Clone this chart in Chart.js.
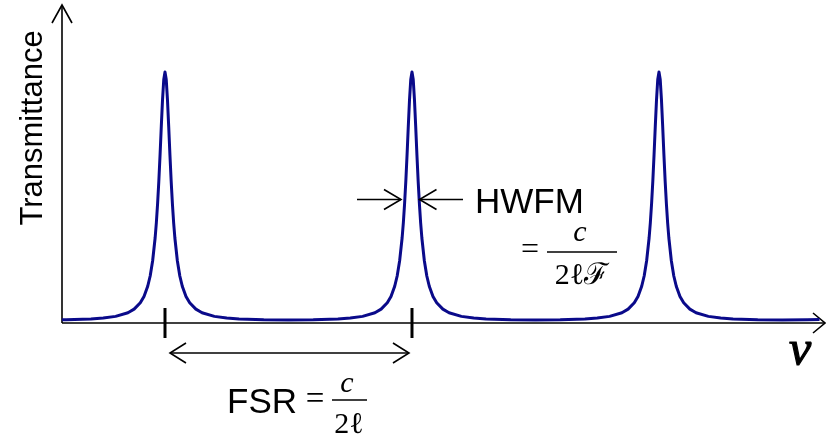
<!DOCTYPE html>
<html>
<head>
<meta charset="utf-8">
<title>Fabry-Perot transmittance</title>
<script src="https://cdn.jsdelivr.net/npm/chart.js@4/dist/chart.umd.min.js"></script>
<style>
  html, body { margin: 0; padding: 0; background: #fff; }
  canvas { display: block; }
</style>
</head>
<body>
<canvas id="chart" width="826" height="436"></canvas>
<script>
// Frequency (in units of the free spectral range) and transmittance
const freq = [
  0.583, 0.6, 0.7, 0.75, 0.8, 0.85, 0.875, 0.9, 0.915, 0.93, 0.94, 0.95, 0.96, 0.965, 0.97, 0.975, 0.98, 0.985, 0.99, 0.995,
  1.0, 1.005, 1.01, 1.015, 1.02, 1.025, 1.03, 1.035, 1.04, 1.05, 1.06, 1.07, 1.085, 1.1, 1.125, 1.15, 1.2, 1.25, 1.3, 1.4,
  1.5, 1.6, 1.7, 1.75, 1.8, 1.85, 1.875, 1.9, 1.915, 1.93, 1.94, 1.95, 1.96, 1.965, 1.97, 1.975, 1.98, 1.985, 1.99, 1.995,
  2.0, 2.005, 2.01, 2.015, 2.02, 2.025, 2.03, 2.035, 2.04, 2.05, 2.06, 2.07, 2.085, 2.1, 2.125, 2.15, 2.2, 2.25, 2.3, 2.4,
  2.5, 2.6, 2.7, 2.75, 2.8, 2.85, 2.875, 2.9, 2.915, 2.93, 2.94, 2.95, 2.96, 2.965, 2.97, 2.975, 2.98, 2.985, 2.99, 2.995,
  3.0, 3.005, 3.01, 3.015, 3.02, 3.025, 3.03, 3.035, 3.04, 3.05, 3.06, 3.07, 3.085, 3.1, 3.125, 3.15, 3.2, 3.25, 3.3, 3.4,
  3.5, 3.6, 3.65
];
const transmittance = [
  0.0086, 0.0087, 0.012, 0.0156, 0.0225, 0.0371, 0.0514, 0.0767, 0.102, 0.143, 0.184, 0.245, 0.336, 0.397, 0.473, 0.563, 0.668, 0.782, 0.889, 0.97,
  1.0, 0.97, 0.889, 0.782, 0.668, 0.563, 0.473, 0.397, 0.336, 0.245, 0.184, 0.143, 0.102, 0.0767, 0.0514, 0.0371, 0.0225, 0.0156, 0.012, 0.0087,
  0.0079, 0.0087, 0.012, 0.0156, 0.0225, 0.0371, 0.0514, 0.0767, 0.102, 0.143, 0.184, 0.245, 0.336, 0.397, 0.473, 0.563, 0.668, 0.782, 0.889, 0.97,
  1.0, 0.97, 0.889, 0.782, 0.668, 0.563, 0.473, 0.397, 0.336, 0.245, 0.184, 0.143, 0.102, 0.0767, 0.0514, 0.0371, 0.0225, 0.0156, 0.012, 0.0087,
  0.0079, 0.0087, 0.012, 0.0156, 0.0225, 0.0371, 0.0514, 0.0767, 0.102, 0.143, 0.184, 0.245, 0.336, 0.397, 0.473, 0.563, 0.668, 0.782, 0.889, 0.97,
  1.0, 0.97, 0.889, 0.782, 0.668, 0.563, 0.473, 0.397, 0.336, 0.245, 0.184, 0.143, 0.102, 0.0767, 0.0514, 0.0371, 0.0225, 0.0156, 0.012, 0.0087,
  0.0079, 0.0087, 0.0099
];
// Peaks marked on the axis for the FSR, and the peak carrying the HWFM arrows
const fsrPeaks = [1, 2];
const hwfmPeak = 2;
const hwfmLevel = 0.49;
const freqRange = [0.583, 3.66];

const points = freq.map((f, i) => ({ x: f, y: transmittance[i] }));

// open chevron arrow head, tip at (x, y), pointing in direction (dx, dy)
function arrowHead(ctx, x, y, dx, dy, len, half) {
    const px = -dy, py = dx;
    ctx.beginPath();
    ctx.moveTo(x - dx * len + px * half, y - dy * len + py * half);
    ctx.lineTo(x, y);
    ctx.lineTo(x - dx * len - px * half, y - dy * len - py * half);
    ctx.stroke();
}

function segment(ctx, x1, y1, x2, y2) {
    ctx.beginPath();
    ctx.moveTo(x1, y1);
    ctx.lineTo(x2, y2);
    ctx.stroke();
}

const axesPlugin = {
    id: 'axesPlugin',
    beforeDatasetsDraw(chart) {
        const { ctx, scales: { x, y } } = chart;
        const left = x.getPixelForValue(freqRange[0]);
        const zero = y.getPixelForValue(0);
        ctx.save();
        ctx.strokeStyle = '#000';
        ctx.lineWidth = 1.6;
        // vertical axis with arrow
        segment(ctx, left, zero + 1, left, 5);
        arrowHead(ctx, left, 5, 0, -1, 18, 10);
        // horizontal axis with arrow
        segment(ctx, left, zero + 1, 825, zero + 1);
        arrowHead(ctx, 825, zero + 1, 1, 0, 12, 10);

        // axis labels
        ctx.fillStyle = '#000';
        ctx.save();
        ctx.translate(42, 128);
        ctx.rotate(-Math.PI / 2);
        ctx.font = '31px "Liberation Sans", Arial, sans-serif';
        ctx.textAlign = 'center';
        ctx.textBaseline = 'alphabetic';
        ctx.fillText('Transmittance', 0, 0);
        ctx.restore();

        ctx.font = 'italic 50px "Liberation Serif", "Times New Roman", serif';
        ctx.textAlign = 'center';
        ctx.lineWidth = 1.2;
        ctx.fillText('\u03BD', 800, 365);
        ctx.strokeText('\u03BD', 800, 365);
        ctx.restore();
    },
    afterDatasetsDraw(chart) {
        const { ctx, scales: { x, y } } = chart;
        const zero = y.getPixelForValue(0);
        ctx.save();
        ctx.strokeStyle = '#000';
        ctx.fillStyle = '#000';

        // FSR ticks and double arrow
        const p1 = x.getPixelForValue(fsrPeaks[0]);
        const p2 = x.getPixelForValue(fsrPeaks[1]);
        ctx.lineWidth = 3;
        segment(ctx, p1, zero - 14, p1, zero + 16);
        segment(ctx, p2, zero - 14, p2, zero + 16);
        ctx.lineWidth = 1.6;
        const ay = zero + 31;
        segment(ctx, p1 + 5, ay, p2 - 3, ay);
        arrowHead(ctx, p1 + 5, ay, -1, 0, 16, 10);
        arrowHead(ctx, p2 - 3, ay, 1, 0, 16, 10);

        ctx.textAlign = 'left';
        ctx.textBaseline = 'alphabetic';
        ctx.font = '35px "Liberation Sans", Arial, sans-serif';
        ctx.fillText('FSR', 227, 413);
        ctx.textAlign = 'center';
        ctx.font = '33px "Liberation Serif", "Times New Roman", serif';
        ctx.fillText('=', 315, 409);
        ctx.font = 'italic 30px "Liberation Serif", "Times New Roman", serif';
        ctx.fillText('c', 347, 392);
        ctx.font = '30px "Liberation Serif", "Times New Roman", serif';
        ctx.fillText('2\u2113', 349, 433);
        ctx.lineWidth = 1.3;
        segment(ctx, 332, 400, 367, 400);

        // HWFM arrows
        const hp = x.getPixelForValue(hwfmPeak);
        const hy = y.getPixelForValue(hwfmLevel);
        ctx.lineWidth = 1.6;
        segment(ctx, 357, hy, hp - 11, hy);
        arrowHead(ctx, hp - 11, hy, 1, 0, 17, 10);
        segment(ctx, hp + 7.5, hy, 463, hy);
        arrowHead(ctx, hp + 7.5, hy, -1, 0, 17, 10);

        ctx.textAlign = 'left';
        ctx.font = '35px "Liberation Sans", Arial, sans-serif';
        ctx.fillText('HWFM', 475, 213);
        ctx.textAlign = 'center';
        ctx.font = '32px "Liberation Serif", "Times New Roman", serif';
        ctx.fillText('=', 530, 259);
        ctx.font = 'italic 30px "Liberation Serif", "Times New Roman", serif';
        ctx.fillText('c', 580, 241);
        ctx.font = '30px "Liberation Serif", "Times New Roman", serif';
        ctx.fillText('2\u2113\u2131', 582, 284);
        ctx.lineWidth = 1.3;
        segment(ctx, 547, 252, 617, 252);
        ctx.restore();
    }
};

new Chart(document.getElementById('chart').getContext('2d'), {
    type: 'line',
    data: {
        datasets: [{
            label: 'Transmittance',
            data: points,
            borderColor: '#0a0a8a',
            borderWidth: 3,
            borderJoinStyle: 'round',
            pointRadius: 0,
            tension: 0,
            fill: false,
            clip: false
        }]
    },
    options: {
        responsive: false,
        animation: false,
        layout: { padding: { left: 62, right: 4, top: 72, bottom: 114 } },
        plugins: {
            legend: { display: false },
            tooltip: { enabled: false }
        },
        scales: {
            x: { type: 'linear', min: freqRange[0], max: freqRange[1], display: false },
            y: { type: 'linear', min: 0, max: 1, display: false }
        }
    },
    plugins: [axesPlugin]
});
</script>
</body>
</html>
